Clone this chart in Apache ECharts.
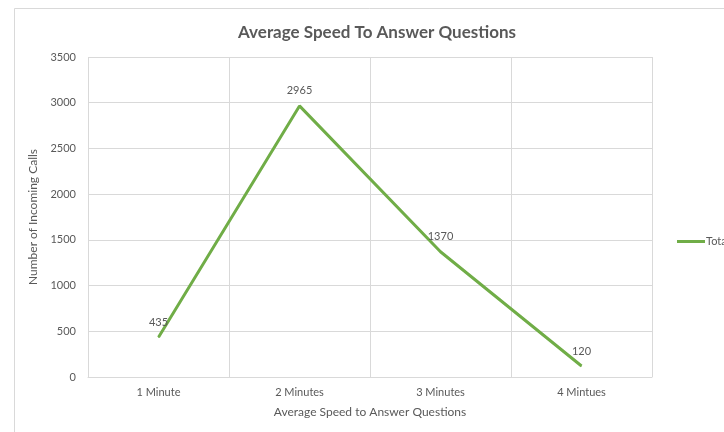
<!DOCTYPE html>
<html>
<head>
<meta charset="utf-8">
<script src="https://cdn.jsdelivr.net/npm/echarts@6/dist/echarts.min.js"></script>
<style>
  html, body { margin: 0; padding: 0; background: #fff; }
  #chart { width: 724px; height: 432px; }
</style>
</head>
<body>
<div id="chart"></div>
<script>
const categories = ['1 Minute', '2 Minutes', '3 Minutes', '4 Mintues']
const totalCalls = [435, 2965, 1370, 120]
const yTicks = { min: 0, max: 3500, interval: 500 }

const textColor = '#595959'
const gridColor = '#d9d9d9'
const lineColor = '#70ad47'
const fontFamily = 'Lato, "Open Sans", sans-serif'

const chart = echarts.init(document.getElementById('chart'))

chart.setOption({
  backgroundColor: '#fff',
  animation: false,
  textStyle: { fontFamily: fontFamily },
  graphic: [{
    type: 'rect',
    shape: { x: 14.5, y: 8.5, width: 740, height: 440 },
    style: { fill: 'none', stroke: '#d9d9d9', lineWidth: 1 },
    silent: true
  }],
  title: {
    text: 'Average Speed To Answer Questions',
    left: 372,
    textAlign: 'center',
    top: 19,
    textStyle: {
      fontFamily: fontFamily,
      fontSize: 17,
      fontWeight: 'bold',
      color: textColor
    }
  },
  legend: {
    left: 672,
    top: 231,
    icon: 'rect',
    itemWidth: 28,
    itemHeight: 3,
    itemGap: 0,
    data: ['Total'],
    textStyle: { color: textColor, fontSize: 11, fontFamily: fontFamily, padding: [0, 0, 0, -4] }
  },
  grid: {
    left: 88,
    right: 72,
    top: 57,
    bottom: 55
  },
  xAxis: {
    type: 'category',
    data: categories,
    boundaryGap: true,
    name: 'Average Speed to Answer Questions',
    nameLocation: 'middle',
    nameGap: 29,
    nameTextStyle: { color: textColor, fontSize: 12, fontFamily: fontFamily },
    axisLine: { show: true, lineStyle: { color: gridColor, width: 1 } },
    axisTick: { show: false },
    axisLabel: { color: textColor, fontSize: 11, margin: 10 },
    splitLine: { show: true, lineStyle: { color: gridColor, width: 1 } }
  },
  yAxis: {
    type: 'value',
    min: yTicks.min,
    max: yTicks.max,
    interval: yTicks.interval,
    name: 'Number of Incoming Calls',
    nameLocation: 'middle',
    nameGap: 47,
    nameRotate: 90,
    nameTextStyle: { color: textColor, fontSize: 12, fontFamily: fontFamily },
    axisLine: { show: false },
    axisTick: { show: false },
    axisLabel: { color: textColor, fontSize: 11, margin: 12, formatter: (v) => String(v) },
    splitLine: { show: true, lineStyle: { color: gridColor, width: 1 } }
  },
  series: [{
    name: 'Total',
    type: 'line',
    data: totalCalls,
    symbol: 'circle',
    symbolSize: 1,
    showSymbol: true,
    lineStyle: { color: lineColor, width: 3 },
    itemStyle: { color: lineColor },
    label: {
      show: true,
      position: 'top',
      distance: 9,
      color: textColor,
      fontSize: 11
    }
  }]
})
</script>
</body>
</html>
